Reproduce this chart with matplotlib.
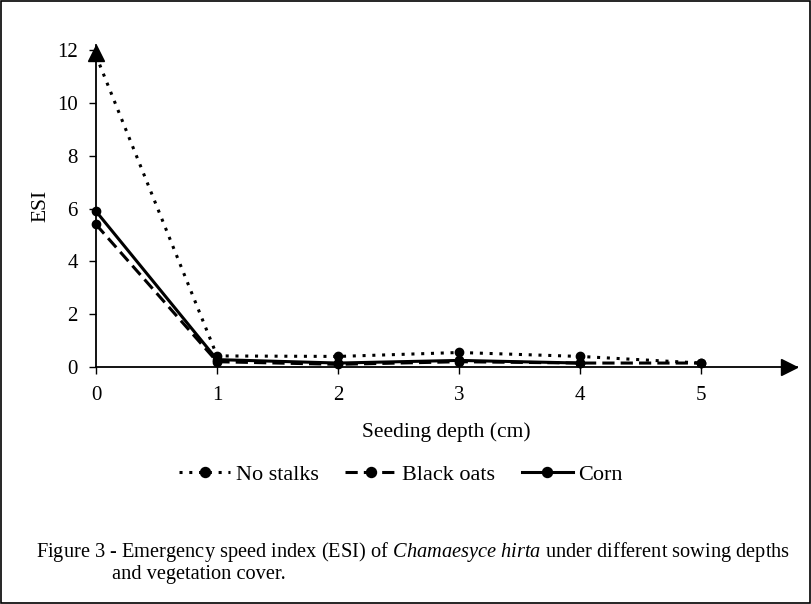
import matplotlib
matplotlib.use("Agg")
import matplotlib.pyplot as plt
from matplotlib.patches import Rectangle
import matplotlib.transforms as mtransforms

depth = [0, 1, 2, 3, 4, 5]
no_stalks = [11.8, 0.42, 0.4, 0.55, 0.4, 0.15]
black_oats = [5.4, 0.2, 0.1, 0.2, 0.15, 0.15]
corn_depth = [0, 1, 2, 3, 4]
corn = [5.9, 0.28, 0.15, 0.25, 0.15]
yticks = [0, 2, 4, 6, 8, 10, 12]

plt.rcParams['font.family'] = ['Liberation Serif', 'DejaVu Serif']
plt.rcParams['mathtext.fontset'] = 'custom'
plt.rcParams['mathtext.rm'] = 'Liberation Serif'
plt.rcParams['mathtext.it'] = 'Liberation Serif:italic'

fig = plt.figure(figsize=(8.11, 6.04), dpi=100)
ax = fig.add_axes([96/811, 1-367/604, (797-96)/811, (367-45)/604])

ax.plot(depth, no_stalks, color='black', linestyle=(0, (1, 2.2)), lw=2.2,
        marker='o', ms=6, label='No stalks', clip_on=False, zorder=3)
ax.plot(depth, black_oats, color='black', linestyle=(0, (4, 2)), lw=2.2,
        marker='o', ms=6, label='Black oats', clip_on=False, zorder=3)
ax.plot(corn_depth, corn, color='black', linestyle='-', lw=2.2,
        marker='o', ms=6, label='Corn', clip_on=False, zorder=3)

ax.set_xlim(0, 5.79)
ax.set_ylim(0, 12.2)
ax.spines['top'].set_visible(False)
ax.spines['right'].set_visible(False)
ax.spines['left'].set_linewidth(1.3)
ax.spines['bottom'].set_linewidth(1.3)
ax.set_xticks(depth)
ax.set_yticks(yticks)
ax.tick_params(axis='both', direction='out', length=5, width=1, labelsize=15)
ax.tick_params(axis='x', pad=9)
ax.tick_params(axis='y', pad=8)

# axis arrows (tip at the end of each axis)
tx = mtransforms.offset_copy(ax.get_yaxis_transform(), fig=fig, x=-6, y=0, units='points')
ty = mtransforms.offset_copy(ax.get_xaxis_transform(), fig=fig, x=0, y=-6, units='points')
ax.plot(1, 0, '>', color='black', ms=12, transform=tx, clip_on=False, zorder=4)
ax.plot(0, 1, '^', color='black', ms=12, transform=ty, clip_on=False, zorder=4)

ax.set_xlabel('Seeding depth (cm)', fontsize=15.5, labelpad=12)
ax.set_ylabel('ESI', fontsize=15.5, labelpad=5)

leg = fig.legend(loc='center', bbox_to_anchor=(401/811, 1-475/604), ncol=3,
                 frameon=False, fontsize=16, handlelength=2.3, columnspacing=1.2,
                 handletextpad=0.25, markerscale=1.2)

fig.text(36/811, 1-552/604,
         'Figure 3 - Emergency speed index (ESI) of $\\mathit{Chamaesyce\\ hirta}$ under different sowing depths',
         fontsize=14.7, va='center', ha='left')
fig.text(112/811, 1-575/604, 'and vegetation cover.', fontsize=14.7, va='center', ha='left')

fig.patches.append(Rectangle((0.001, 0.001), 0.998, 0.997, transform=fig.transFigure,
                             fill=False, edgecolor='black', lw=1.2))

fig.savefig('out.png', dpi=100)
